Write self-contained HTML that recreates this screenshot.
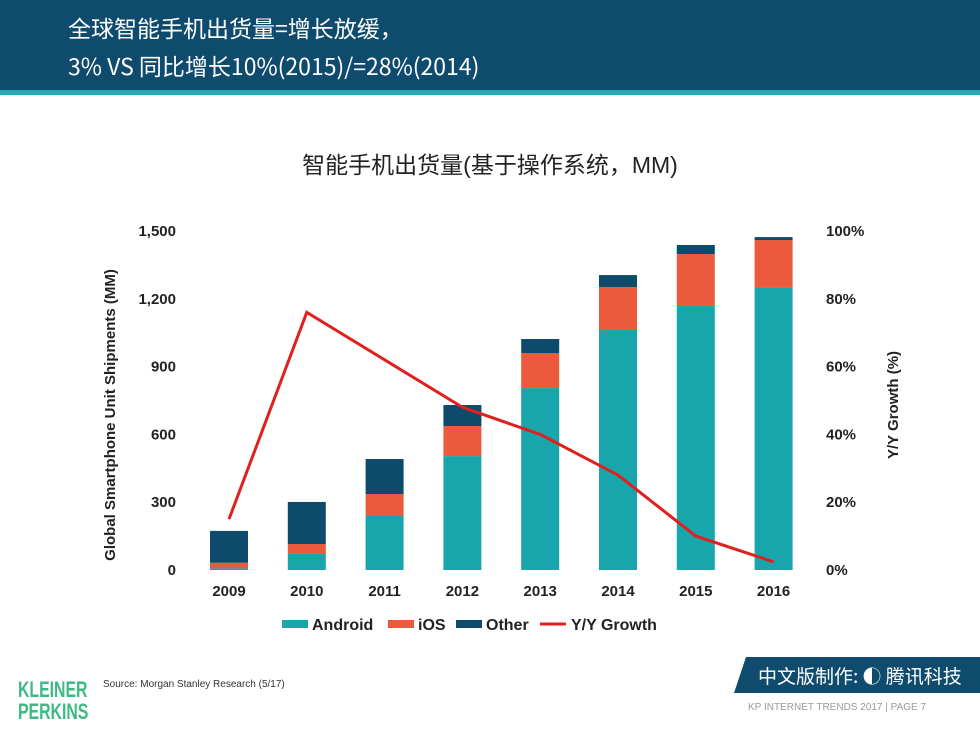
<!DOCTYPE html>
<html><head><meta charset="utf-8">
<style>
body{margin:0;width:980px;height:735px;overflow:hidden;background:#fff;font-family:"Liberation Sans","Noto Sans CJK SC",sans-serif;position:relative}
.hdr{position:absolute;left:0;top:0;width:980px;height:90px;background:#0f4b6d}
.hdr-line{position:absolute;left:0;top:90px;width:980px;height:5px;background:#25a9b6}
.ttl{position:absolute;left:68px;color:#fff;font-size:23px;font-family:"Noto Sans CJK SC","Liberation Sans",sans-serif}
</style></head><body>
<div class="hdr"></div>
<div class="hdr-line"></div>
<div class="ttl" style="top:10px">全球智能手机出货量=增长放缓，</div>
<div class="ttl" style="top:48px">3% VS 同比增长10%(2015)/=28%(2014)</div>
<svg id="chart" width="980" height="735" style="position:absolute;left:0;top:0">
<text x="490" y="173" text-anchor="middle" font-size="23" fill="#222" font-family="Liberation Sans,Noto Sans CJK SC,sans-serif">智能手机出货量(基于操作系统，MM)</text>
<text transform="translate(115,415) rotate(-90)" text-anchor="middle" font-size="15" font-weight="bold" fill="#222">Global Smartphone Unit Shipments (MM)</text>
<text transform="translate(898,405) rotate(-90)" text-anchor="middle" font-size="15" font-weight="bold" fill="#222">Y/Y Growth (%)</text>
<g id="plot"></g>
<g font-size="16" font-weight="bold" fill="#222">
<rect x="282" y="620" width="26" height="8" fill="#18a5ab"/><text x="312" y="630">Android</text>
<rect x="388" y="620" width="26" height="8" fill="#eb5a3c"/><text x="418" y="630">iOS</text>
<rect x="456" y="620" width="26" height="8" fill="#0e4a6b"/><text x="486" y="630">Other</text>
<line x1="540" y1="624" x2="566" y2="624" stroke="#e0201f" stroke-width="3"/><text x="571" y="630">Y/Y Growth</text>
</g>
<g transform="translate(18,0) scale(0.72,1)">
<text x="0" y="697" font-size="22" font-weight="bold" fill="#3dba84">KLEINER</text>
<text x="0" y="719" font-size="22" font-weight="bold" fill="#3dba84">PERKINS</text>
</g>
<text x="103" y="687" font-size="10" fill="#333">Source: Morgan Stanley Research (5/17)</text>
<polygon points="746,657 980,657 980,693 734,693" fill="#0f4b6d"/>
<text x="758" y="683" font-size="19" fill="#fff" font-family="Noto Sans CJK SC,sans-serif">中文版制作: ◐ 腾讯科技</text>
<text x="748" y="710" font-size="10" fill="#999">KP INTERNET TRENDS 2017  |  PAGE 7</text>
</svg>
<script>
const years=["2009","2010","2011","2012","2013","2014","2015","2016"];
const android=[7,71,239,504,805,1062,1168,1248];
const ios=[25,44,97,133,155,190,230,212];
const other=[141,186,155,93,62,53,40,13];
const growth=[15,76,62,48,40,28,10,2.4];
const leftTicks=[0,300,600,900,1200,1500];
const rightTicks=[0,20,40,60,80,100];
const NS="http://www.w3.org/2000/svg";
const g=document.getElementById('plot');
const y0=570,yTop=231;
function yL(v){return y0-(v/1500)*(y0-yTop);}
function yR(v){return y0-(v/100)*(y0-yTop);}
function xC(i){return 229+i*77.8;}
function mk(t,a){const e=document.createElementNS(NS,t);for(const k in a)e.setAttribute(k,a[k]);g.appendChild(e);return e;}
leftTicks.forEach(v=>{const t=mk('text',{x:176,y:yL(v)+5,'text-anchor':'end','font-size':15,'font-weight':'bold',fill:'#222'});t.textContent=v.toLocaleString('en-US');

});
rightTicks.forEach(v=>{const t=mk('text',{x:826,y:yR(v)+5,'font-size':15,'font-weight':'bold',fill:'#222'});t.textContent=v+'%';

});
const bw=38;
years.forEach((yr,i)=>{
 const x=xC(i)-bw/2;let base=0;
 [[android,'#18a5ab','android'],[ios,'#eb5a3c','ios'],[other,'#0e4a6b','other']].forEach(([arr,c,n])=>{
  const r=mk('rect',{x:x,y:yL(base+arr[i]),width:bw,height:yL(base)-yL(base+arr[i]),fill:c});
  
  
  base+=arr[i];});
 const t=mk('text',{x:xC(i),y:596,'text-anchor':'middle','font-size':15,'font-weight':'bold',fill:'#222'});t.textContent=yr;
 
 
});
const p=mk('polyline',{points:growth.map((v,i)=>xC(i)+','+yR(v)).join(' '),fill:'none',stroke:'#e0201f','stroke-width':3});


</script>
</body></html>
